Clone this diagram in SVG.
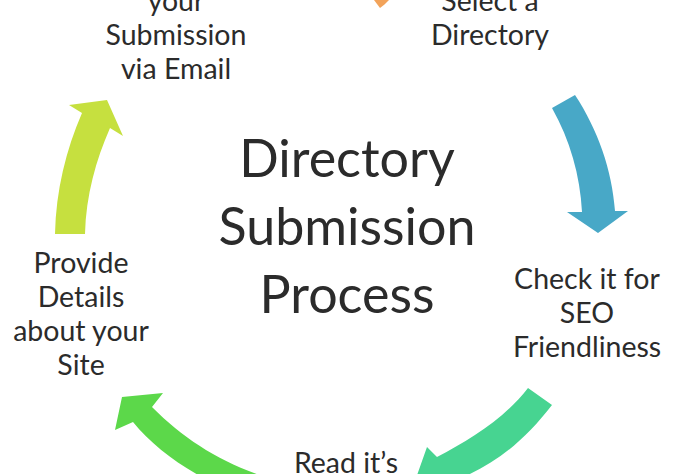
<svg xmlns="http://www.w3.org/2000/svg" width="680" height="474" viewBox="0 0 680 474">
<style>
  text { font-family: Lato, "Open Sans", "Liberation Sans", sans-serif; fill: #2b2b2b; text-anchor: middle; }
  .lbl { font-size: 28.5px; }
  .title { font-size: 52px; }
</style>
<rect width="680" height="474" fill="#ffffff"/>
<g id="connectors">
  <path id="arrow-orange" d="M 374 0 L 389 0 C 386 3 383 6 380 8 Z" fill="#f2a35a"/>
  <path id="arrow-teal" d="M 552 108 L 575 95 C 598 130 612 170 615 211 L 628 211 L 598 233 L 567 212 L 582 212 C 580 175 570 140 552 108 Z" fill="#48a8c7"/>
  <path id="arrow-seagreen" d="M 528 388 L 552 405 C 525 440 495 465 458 479 L 470 492 L 410 495 L 427 447 L 437 457 C 470 440 505 418 528 388 Z" fill="#47d491"/>
  <path id="arrow-green" d="M 152 407 C 185 440 220 462 268 478 L 252 500 C 200 480 160 455 133 422 L 115 430 L 122 397 L 163 393 Z" fill="#5cd84a"/>
  <path id="arrow-lime" d="M 55 234 C 56 190 66 150 82 113 L 69 105 L 107 100 L 123 136 L 110 128 C 96 160 86 195 85 234 Z" fill="#c6e03f"/>
</g>
<g id="title">
  <text class="title" x="347" y="177">Directory</text>
  <text class="title" x="347" y="245">Submission</text>
  <text class="title" x="347" y="313">Process</text>
</g>
<g id="node-email">
  <text class="lbl" x="176" y="11">your</text>
  <text class="lbl" x="176" y="45">Submission</text>
  <text class="lbl" x="176" y="79">via Email</text>
</g>
<g id="node-select">
  <text class="lbl" x="490" y="11">Select a</text>
  <text class="lbl" x="490" y="45">Directory</text>
</g>
<g id="node-seo">
  <text class="lbl" x="587" y="289">Check it for</text>
  <text class="lbl" x="587" y="323">SEO</text>
  <text class="lbl" x="587" y="357">Friendliness</text>
</g>
<g id="node-read">
  <text class="lbl" x="346" y="473">Read it’s</text>
</g>
<g id="node-details">
  <text class="lbl" x="81" y="273">Provide</text>
  <text class="lbl" x="81" y="307">Details</text>
  <text class="lbl" x="81" y="341">about your</text>
  <text class="lbl" x="81" y="375">Site</text>
</g>
</svg>
